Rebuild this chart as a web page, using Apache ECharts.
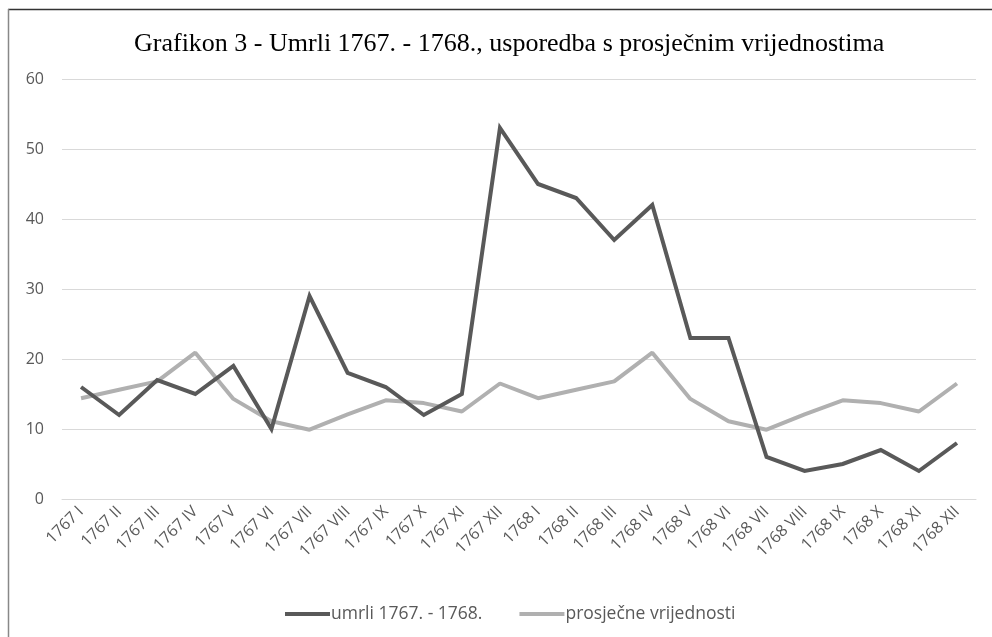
<!DOCTYPE html>
<html>
<head>
<meta charset="utf-8">
<script src="https://cdn.jsdelivr.net/npm/echarts@6/dist/echarts.min.js"></script>
<style>
  html, body { margin: 0; padding: 0; background: #fff; }
  #chart { width: 992px; height: 637px; }
</style>
</head>
<body>
<div id="chart"></div>
<script>
var months = ['1767 I', '1767 II', '1767 III', '1767 IV', '1767 V', '1767 VI', '1767 VII', '1767 VIII',
    '1767 IX', '1767 X', '1767 XI', '1767 XII', '1768 I', '1768 II', '1768 III', '1768 IV', '1768 V',
    '1768 VI', '1768 VII', '1768 VIII', '1768 IX', '1768 X', '1768 XI', '1768 XII'];

var umrli = [16, 12, 17, 15, 19, 10, 29, 18, 16, 12, 15, 53,
    45, 43, 37, 42, 23, 23, 6, 4, 5, 7, 4, 8];

var prosjek = [14.4, 15.6, 16.8, 20.9, 14.3, 11.1, 9.9, 12.1, 14.1, 13.7, 12.5, 16.5,
    14.4, 15.6, 16.8, 20.9, 14.3, 11.1, 9.9, 12.1, 14.1, 13.7, 12.5, 16.5];

var chartDom = document.getElementById('chart');
var myChart = echarts.init(chartDom);

var labelFont = 'Open Sans, Liberation Sans, sans-serif';

var option = {
    animation: false,
    backgroundColor: '#fff',
    title: {
        text: 'Grafikon 3 - Umrli 1767. - 1768., usporedba s prosječnim vrijednostima',
        left: 129,
        top: 26,
        textStyle: {
            fontFamily: 'Liberation Serif, serif',
            fontWeight: 'normal',
            fontSize: 26,
            color: '#000'
        }
    },
    // okvir: gornja i lijeva linija
    graphic: [
        { type: 'line', shape: { x1: 8, y1: 9.5, x2: 992, y2: 9.5 }, style: { stroke: '#333', lineWidth: 1.5 } },
        { type: 'line', shape: { x1: 8.5, y1: 9, x2: 8.5, y2: 637 }, style: { stroke: '#888', lineWidth: 1.5 } }
    ],
    legend: {
        top: 600,
        left: 280,
        itemWidth: 45,
        itemHeight: 4,
        itemGap: 37,
        icon: 'rect',
        textStyle: { fontFamily: labelFont, fontSize: 17.5, color: '#595959', padding: [0, 0, 0, -4] },
        data: ['umrli 1767. - 1768.', 'prosječne vrijednosti']
    },
    grid: {
        left: 62,
        right: 16,
        top: 79,
        bottom: 138,
        containLabel: false
    },
    xAxis: {
        type: 'category',
        data: months,
        boundaryGap: true,
        axisLine: { lineStyle: { color: '#d9d9d9' } },
        axisTick: { show: false },
        axisLabel: {
            rotate: 45,
            interval: 0,
            margin: 10,
            fontFamily: labelFont,
            fontSize: 16,
            color: '#595959'
        }
    },
    yAxis: {
        type: 'value',
        min: 0,
        max: 60,
        interval: 10,
        axisLine: { show: false },
        axisTick: { show: false },
        axisLabel: {
            margin: 18,
            fontFamily: labelFont,
            fontSize: 16,
            color: '#595959'
        },
        splitLine: { lineStyle: { color: '#d9d9d9', width: 1 } }
    },
    series: [
        {
            name: 'umrli 1767. - 1768.',
            type: 'line',
            data: umrli,
            symbol: 'none',
            itemStyle: { color: '#595959' },
            lineStyle: { color: '#595959', width: 4, join: 'miter' }
        },
        {
            name: 'prosječne vrijednosti',
            type: 'line',
            data: prosjek,
            symbol: 'none',
            z: 1,
            itemStyle: { color: '#b0b0b0' },
            lineStyle: { color: '#b0b0b0', width: 4 }
        }
    ]
};

myChart.setOption(option);

window.addEventListener('resize', function() {
    myChart.resize();
});
</script>
</body>
</html>
